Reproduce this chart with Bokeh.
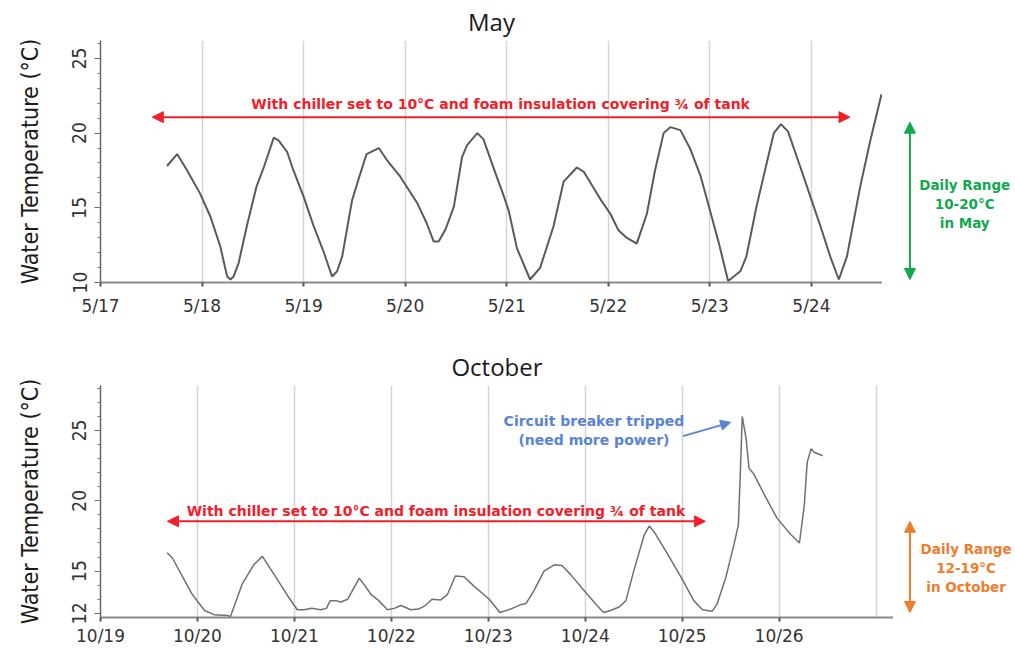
from bokeh.plotting import figure
from bokeh.layouts import column, row
from bokeh.models import Range1d, FixedTicker, Label, Arrow, NormalHead
from bokeh.embed import file_html
from bokeh.resources import INLINE

# ---------------- data ----------------
may_day = [17.655, 17.755, 17.853, 17.977, 18.083, 18.18, 18.247, 18.28, 18.31, 18.36,
           18.44, 18.535, 18.61, 18.706, 18.755, 18.837, 18.90, 19.0, 19.1, 19.2,
           19.28, 19.33, 19.38, 19.477, 19.54, 19.62, 19.74, 19.82, 19.95, 20.12,
           20.21, 20.28, 20.33, 20.40, 20.48, 20.56, 20.61, 20.71, 20.77, 20.90,
           20.96, 21.02, 21.10, 21.23, 21.33, 21.46, 21.56, 21.69, 21.76, 21.92,
           22.02, 22.10, 22.18, 22.28, 22.38, 22.46, 22.545, 22.61, 22.71, 22.81,
           22.91, 22.99, 23.09, 23.18, 23.30, 23.36, 23.46, 23.56, 23.63, 23.70,
           23.77, 23.89, 23.99, 24.09, 24.19, 24.27, 24.35, 24.48, 24.58, 24.69]
may_temp = [17.8, 18.6, 17.5, 16.0, 14.4, 12.4, 10.4, 10.2, 10.4, 11.3,
            13.75, 16.4, 17.75, 19.7, 19.5, 18.75, 17.5, 15.75, 13.75, 12.0,
            10.4, 10.75, 11.75, 15.5, 16.9, 18.6, 19.0, 18.2, 17.1, 15.3,
            14.0, 12.75, 12.75, 13.6, 15.1, 18.4, 19.2, 20.0, 19.6, 17.1,
            16.0, 14.8, 12.3, 10.2, 11.0, 13.75, 16.75, 17.7, 17.4, 15.6,
            14.6, 13.5, 13.0, 12.6, 14.6, 17.5, 20.0, 20.4, 20.2, 18.9,
            17.1, 15.1, 12.6, 10.1, 10.75, 11.75, 15.1, 18.0, 20.0, 20.6,
            20.1, 17.75, 15.75, 13.75, 11.65, 10.2, 11.75, 16.4, 19.5, 22.6]
may_ticks = [17, 18, 19, 20, 21, 22, 23, 24]
may_labels = ["5/17", "5/18", "5/19", "5/20", "5/21", "5/22", "5/23", "5/24"]
may_yticks = [10, 15, 20, 25]

oct_day = [19.688, 19.74, 19.843, 19.946, 20.073, 20.17, 20.31, 20.34, 20.46, 20.58,
           20.67, 20.81, 20.93, 21.03, 21.10, 21.18, 21.27, 21.33, 21.37, 21.43,
           21.48, 21.55, 21.67, 21.79, 21.87, 21.96, 22.03, 22.10, 22.20, 22.28,
           22.35, 22.42, 22.51, 22.58, 22.66, 22.75, 22.85, 23.01, 23.12, 23.23,
           23.33, 23.39, 23.47, 23.575, 23.68, 23.76, 23.85, 23.99, 24.11, 24.19,
           24.26, 24.35, 24.42, 24.50, 24.61, 24.66, 24.71, 24.85, 24.99, 25.12,
           25.21, 25.31, 25.36, 25.45, 25.535, 25.58, 25.60, 25.62, 25.66, 25.69,
           25.74, 25.85, 25.98, 26.12, 26.21, 26.26, 26.29, 26.33, 26.36, 26.45]
oct_temp = [16.3, 15.95, 14.65, 13.35, 12.2, 11.9, 11.85, 11.75, 14.05, 15.45,
            16.05, 14.55, 13.25, 12.25, 12.25, 12.35, 12.25, 12.35, 12.9, 12.9,
            12.8, 13.0, 14.5, 13.35, 12.9, 12.25, 12.35, 12.55, 12.25, 12.3,
            12.55, 13.0, 12.95, 13.35, 14.65, 14.6, 13.95, 13.0, 12.05, 12.3,
            12.6, 12.7, 13.6, 15.0, 15.45, 15.4, 14.75, 13.6, 12.65, 12.05,
            12.2, 12.45, 12.9, 15.0, 17.6, 18.2, 17.8, 16.2, 14.55, 12.9,
            12.25, 12.15, 12.65, 14.55, 16.9, 18.3, 22.0, 26.0, 24.4, 22.3,
            21.9, 20.4, 18.75, 17.6, 17.0, 19.7, 22.75, 23.7, 23.45, 23.2]
oct_ticks = [19, 20, 21, 22, 23, 24, 25, 26]
oct_labels = ["10/19", "10/20", "10/21", "10/22", "10/23", "10/24", "10/25", "10/26"]
oct_grid = [20, 21, 22, 23, 24, 25, 26, 27]
oct_yticks = [12, 15, 20, 25]

chiller_note = "With chiller set to 10°C and foam insulation covering ¾ of tank"
may_range_note = "Daily Range\n10-20°C\nin May"
oct_range_note = "Daily Range\n12-19°C\nin October"
breaker_note = "Circuit breaker tripped\n(need more power)"

RED = "#f0202a"
GREEN = "#12a84e"
ORANGE = "#ee7d2e"
BLUE = "#5a84d2"
NARROW = "DejaVu Sans Condensed"
WIDE = "DejaVu Sans"


def style(p, xticks, xlabels, gridticks, yticks, yminor, xstandoff):
    p.outline_line_color = None
    p.title.align = "center"
    p.title.text_font = "Open Sans"
    p.title.text_font_size = "24px"
    p.title.text_font_style = "normal"
    p.title.text_color = "#1a1a1a"
    p.title.standoff = 5
    xa = p.xaxis[0]
    xa.ticker = FixedTicker(ticks=xticks)
    xa.major_label_overrides = {t: l for t, l in zip(xticks, xlabels)}
    xa.major_label_text_font = WIDE
    xa.major_label_text_font_size = "17px"
    xa.major_label_text_color = "#333333"
    xa.major_label_standoff = xstandoff
    xa.major_tick_out = 4
    xa.major_tick_in = 0
    xa.minor_tick_out = 0
    xa.axis_line_color = "#8a8a8a"
    xa.axis_line_width = 2
    xa.major_tick_line_color = "#555555"
    xa.major_tick_line_width = 2
    ya = p.yaxis[0]
    ya.ticker = FixedTicker(ticks=yticks, minor_ticks=yminor)
    ya.major_label_orientation = "vertical"
    ya.major_label_text_font = NARROW
    ya.major_label_text_font_size = "19px"
    ya.major_label_text_color = "#333333"
    ya.major_label_standoff = 8
    ya.major_tick_out = 6
    ya.major_tick_in = 0
    ya.minor_tick_out = 3
    ya.minor_tick_in = 0
    ya.axis_line_color = "#666666"
    ya.axis_line_width = 1.5
    ya.major_tick_line_color = "#666666"
    ya.minor_tick_line_color = "#777777"
    ya.axis_label = "Water Temperature (°C)"
    ya.axis_label_text_font = NARROW
    ya.axis_label_text_font_size = "23px"
    ya.axis_label_text_font_style = "normal"
    ya.axis_label_text_color = "#1a1a1a"
    ya.axis_label_standoff = 27
    p.xgrid.ticker = FixedTicker(ticks=gridticks)
    p.xgrid.grid_line_color = "#d4d4d4"
    p.xgrid.grid_line_width = 1.5
    p.ygrid.visible = False


def side(width, height, x_range, y_range, top, bottom):
    s = figure(width=width, height=height, x_range=x_range, y_range=y_range,
               x_axis_type=None, y_axis_type=None, output_backend="svg",
               toolbar_location=None, min_border_left=0, min_border_right=0,
               min_border_top=top, min_border_bottom=bottom)
    s.outline_line_color = None
    s.grid.visible = False
    return s


def note(p, x, y, text, color, size="14px", bold=True):
    p.add_layout(Label(x=x, y=y, text=text, text_align="center", text_baseline="middle",
                       text_font=WIDE, text_font_size=size,
                       text_font_style="bold" if bold else "normal",
                       text_color=color, text_line_height=1.2))


def arrow(p, x0, y0, x1, y1, color, both=True, size=11):
    head = lambda: NormalHead(size=size, fill_color=color, line_color=color)
    kw = dict(end=head(), x_start=x0, y_start=y0, x_end=x1, y_end=y1,
              line_color=color, line_width=2)
    kw["start"] = head() if both else None
    p.add_layout(Arrow(**kw))


# ---------------- May ----------------
may_y = Range1d(10, 26.2)
p1 = figure(width=882, height=318, x_range=Range1d(17, 24.70), y_range=may_y,
            output_backend="svg", toolbar_location=None, title="May",
            min_border_left=100, min_border_right=0, min_border_top=40, min_border_bottom=35)
style(p1, may_ticks, may_labels, may_ticks[1:], may_yticks, list(range(10, 27)), 9)
p1.line(may_day, may_temp, line_color="#5a5a5a", line_width=2)
arrow(p1, 17.51, 21.07, 24.38, 21.07, RED)
note(p1, 20.94, 21.93, chiller_note, RED)

s1 = side(133, 318, Range1d(24.70, 26.01), may_y, 40, 35)
arrow(s1, 24.97, 10.2, 24.97, 20.73, GREEN)
note(s1, 25.51, 15.27, may_range_note, GREEN, size="13.5px")

# ---------------- October ----------------
oct_y = Range1d(11.7, 28.2)
p2 = figure(width=893, height=331, x_range=Range1d(19, 27.18), y_range=oct_y,
            output_backend="svg", toolbar_location=None, title="October",
            min_border_left=100, min_border_right=0, min_border_top=67, min_border_bottom=32)
style(p2, oct_ticks, oct_labels, oct_grid, oct_yticks, list(range(12, 29)), 4)
p2.line(oct_day, oct_temp, line_color="#707070", line_width=1.5)
arrow(p2, 19.69, 18.54, 25.24, 18.54, RED)
note(p2, 22.46, 19.25, chiller_note, RED)
arrow(p2, 25.01, 24.6, 25.50, 25.58, BLUE, both=False, size=10)
note(p2, 24.09, 25.02, breaker_note, BLUE, size="14px", bold=True)

s2 = side(122, 331, Range1d(27.18, 28.44), oct_y, 67, 32)
arrow(s2, 27.35, 12.06, 27.35, 18.54, ORANGE)
note(s2, 27.93, 15.23, oct_range_note, ORANGE, size="13.5px")

layout = column(row(p1, s1), row(p2, s2))
open("out.html", "w").write(file_html(layout, INLINE))
